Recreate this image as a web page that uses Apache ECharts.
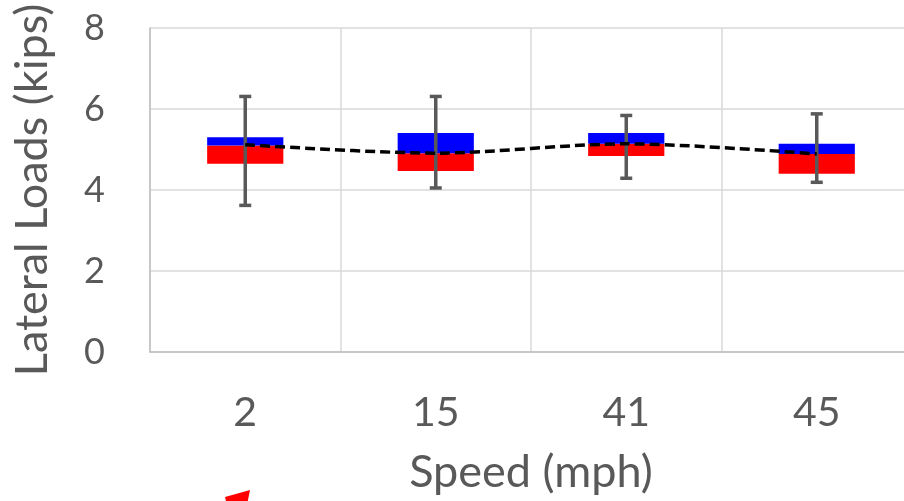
<html>
<head>
    <meta charset="utf-8">
    <title>Chart</title>
    <script src="https://cdn.jsdelivr.net/npm/echarts@6/dist/echarts.min.js"></script>
    <style>
        html, body { margin: 0; padding: 0; background: #fff; overflow: hidden; }
        /* plot area runs a little past the right edge of the window */
        #main { width: 912px; height: 501px; }
    </style>
</head>
<body>
    <div id="main"></div>
    <script type="text/javascript">
        // data
        var speeds = ['2', '15', '41', '45'];
        var lowBox = [4.65, 4.47, 4.84, 4.40];   // bottom of red part
        var midBox = [5.10, 4.91, 5.14, 4.89];   // red / blue boundary
        var highBox = [5.30, 5.41, 5.41, 5.14];  // top of blue part
        var minVal = [3.62, 4.05, 4.29, 4.19];
        var maxVal = [6.31, 6.31, 5.84, 5.88];
        var meanVal = [5.12, 4.91, 5.14, 4.89];
        var yTicks = [0, 2, 4, 6, 8];

        var redPart = lowBox.map(function (v, i) { return +(midBox[i] - v).toFixed(3); });
        var bluePart = midBox.map(function (v, i) { return +(highBox[i] - v).toFixed(3); });

        var myChart = echarts.init(document.getElementById('main'));
        var grey = '#595959';

        var option = {
            animation: false,
            grid: { left: 150, right: 0, top: 28, bottom: 149 },
            xAxis: {
                type: 'category',
                data: speeds,
                name: 'Speed (mph)',
                nameLocation: 'middle',
                nameGap: 98,
                nameTextStyle: { fontFamily: 'Lato', fontSize: 45, color: grey },
                axisLine: { lineStyle: { color: '#bfbfbf', width: 1.5 } },
                axisTick: { show: false },
                axisLabel: { margin: 40, fontFamily: 'Lato', fontSize: 41, color: grey },
                splitLine: { show: true, interval: 0, lineStyle: { color: '#d9d9d9', width: 1.5 } }
            },
            yAxis: {
                type: 'value',
                min: yTicks[0],
                max: yTicks[yTicks.length - 1],
                interval: 2,
                name: 'Lateral Loads (kips)',
                nameLocation: 'middle',
                nameGap: 95,
                nameTextStyle: { fontFamily: 'Lato', fontSize: 45, color: grey },
                axisLine: { show: true, lineStyle: { color: '#bfbfbf', width: 1.5 } },
                axisTick: { show: false },
                axisLabel: { margin: 45, fontFamily: 'Lato', fontSize: 36, color: grey },
                splitLine: { lineStyle: { color: '#d9d9d9', width: 1.5 } }
            },
            series: [
                {
                    type: 'bar', stack: 'box', data: lowBox, barWidth: '40%',
                    itemStyle: { color: 'transparent' }, silent: true
                },
                {
                    type: 'bar', stack: 'box', data: redPart,
                    itemStyle: { color: '#ff0000' }
                },
                {
                    type: 'bar', stack: 'box', data: bluePart,
                    itemStyle: { color: '#0000ff' }
                },
                {
                    type: 'custom',
                    z: 5,
                    data: minVal.map(function (v, i) { return [i, v, maxVal[i]]; }),
                    renderItem: function (params, api) {
                        var lo = api.coord([api.value(0), api.value(1)]);
                        var hi = api.coord([api.value(0), api.value(2)]);
                        var cap = 6;
                        var style = { stroke: grey, lineWidth: 3.5 };
                        return {
                            type: 'group',
                            children: [
                                { type: 'line', shape: { x1: hi[0], y1: hi[1], x2: lo[0], y2: lo[1] }, style: style },
                                { type: 'line', shape: { x1: hi[0] - cap, y1: hi[1], x2: hi[0] + cap, y2: hi[1] }, style: style },
                                { type: 'line', shape: { x1: lo[0] - cap, y1: lo[1], x2: lo[0] + cap, y2: lo[1] }, style: style }
                            ]
                        };
                    }
                },
                {
                    type: 'line',
                    z: 10,
                    data: meanVal,
                    smooth: 0.3,
                    symbol: 'none',
                    lineStyle: { color: '#000', width: 3.5, type: [10, 5] }
                }
            ],
            graphic: [
                {
                    type: 'polygon',
                    shape: { points: [[225, 497], [250, 490], [247, 505], [227, 505]] },
                    style: { fill: '#ff0000' }
                }
            ]
        };
        myChart.setOption(option);
    </script>
</body>
</html>
